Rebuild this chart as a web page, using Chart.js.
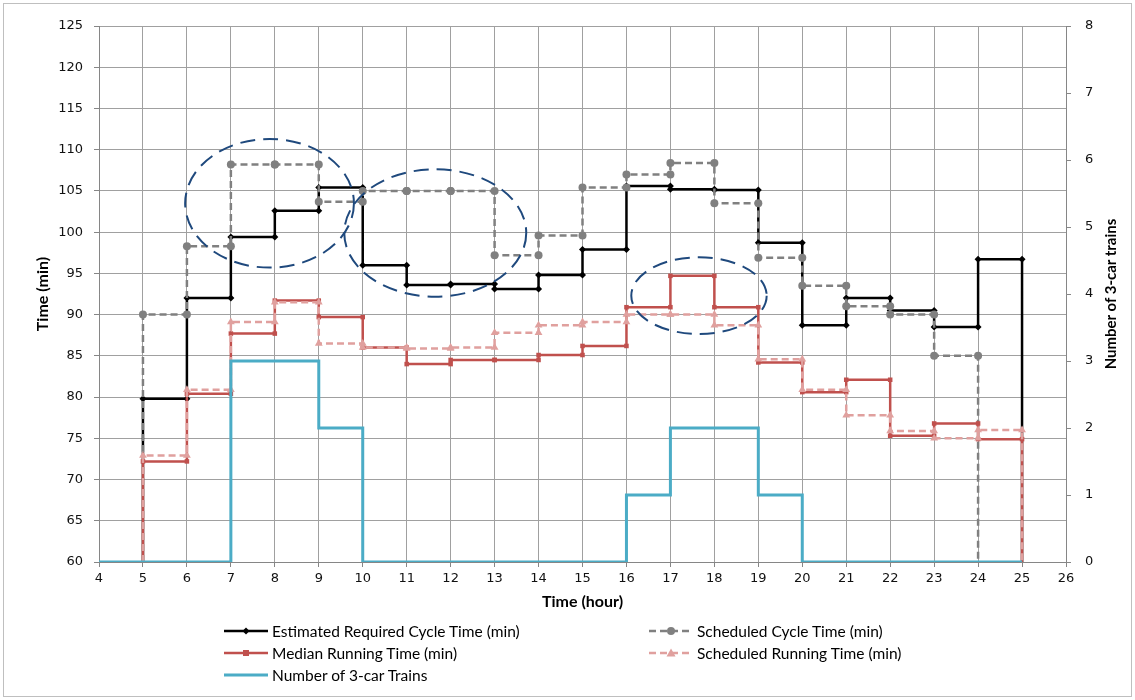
<!DOCTYPE html>
<html><head><meta charset="utf-8">
<script src="https://cdn.jsdelivr.net/npm/chart.js@4"></script>
<style>
html,body{margin:0;padding:0;background:#fff;}
#wrap{position:relative;width:1135px;height:700px;overflow:hidden;background:#fff;}
#c{position:absolute;left:0;top:0;}
#frame{position:absolute;left:3px;top:3px;width:1127px;height:692px;border:1px solid #BFBFBF;pointer-events:none;}
#rtitle{position:absolute;left:1110px;top:294px;transform:translate(-50%,-50%) rotate(-90deg);font:bold 15px Lato;white-space:nowrap;color:#000;}
.lg{position:absolute;height:16px;display:flex;align-items:center;font:15.5px Lato;color:#000;white-space:nowrap;}
.lg svg{margin-right:4px;}
</style></head>
<body>
<div id="wrap">
  <canvas id="c" width="1135" height="700"></canvas>
  <div id="frame"></div>
  <div id="rtitle">Number of 3-car trains</div>
</div>
<script>
// ---- data ----
const FLOOR = 60;
const hoursStart = 5;          // first hour of the time series
const trainsStart = 4;         // first hour of the 3-car train series
const xMin = 4, xMax = 26;
const yLeftMin = 60, yLeftMax = 125, yLeftStep = 5;
const yRightMin = 0, yRightMax = 8, yRightStep = 1;

const seriesLabels = [
  'Estimated Required Cycle Time (min)',
  'Scheduled Cycle Time (min)',
  'Median Running Time (min)',
  'Scheduled Running Time (min)',
  'Number of 3-car Trains'
];
// hours 5..24
const requiredCycle = [79.8, 92.0, 99.4, 102.6, 105.4, 96.0, 93.6, 93.7, 93.1, 94.8, 97.9, 105.6, 105.2, 105.1, 98.7, 88.7, 92.0, 90.5, 88.5, 96.7];
// hours 5..23
const scheduledCycle = [90.0, 98.3, 108.2, 108.2, 103.7, 105.0, 105.0, 105.0, 97.2, 99.6, 105.4, 107.0, 108.4, 103.5, 96.9, 93.5, 91.0, 90.0, 85.0];
// hours 5..24
const medianRunning = [72.2, 80.4, 87.7, 91.7, 89.7, 86.0, 84.0, 84.5, 84.5, 85.1, 86.2, 90.9, 94.7, 90.9, 84.2, 80.6, 82.1, 75.3, 76.8, 74.9];
const scheduledRunning = [72.9, 80.9, 89.1, 91.5, 86.5, 86.0, 85.9, 86.0, 87.8, 88.7, 89.1, 90.0, 90.0, 88.7, 84.6, 80.9, 77.8, 75.9, 75.0, 76.0];
// hours 4..24
const threeCarTrains = [0, 0, 0, 3, 3, 2, 0, 0, 0, 0, 0, 0, 1, 2, 2, 1, 0, 0, 0, 0, 0];

// highlight ellipses (hour, minutes)
const ellipseX = [7.88, 11.65, 17.65];
const ellipseY = [103.5, 99.9, 92.3];
const ellipseRX = [1.92, 2.07, 1.54];
const ellipseRY = [7.8, 7.72, 4.65];

function stepPoints(start, vals, floor) {
  const pts = [];
  if (floor !== null) pts.push({x: start, y: floor});
  vals.forEach((v, i) => { pts.push({x: start + i, y: v}); pts.push({x: start + i + 1, y: v}); });
  if (floor !== null) pts.push({x: start + vals.length, y: floor});
  return pts;
}
const rad = r => (c => (c.raw && c.raw.y === FLOOR) ? 0 : r);

const styles = [
  {color: '#000000', dash: [], marker: 'rectRot', r: 3.5, w: 2.5},
  {color: '#808080', dash: [7, 4], marker: 'circle', r: 4, w: 2.5},
  {color: '#C0504D', dash: [], marker: 'rect', r: 3.2, w: 2.5},
  {color: '#E0A09E', dash: [7, 4], marker: 'triangle', r: 4.5, w: 2.5},
  {color: '#4BACC6', dash: [], marker: null, r: 0, w: 3}
];
const seriesData = [
  stepPoints(hoursStart, requiredCycle, FLOOR),
  stepPoints(hoursStart, scheduledCycle, FLOOR),
  stepPoints(hoursStart, medianRunning, FLOOR),
  stepPoints(hoursStart, scheduledRunning, FLOOR),
  stepPoints(trainsStart, threeCarTrains, null)
];

const datasets = seriesData.map((d, i) => ({
  label: seriesLabels[i],
  data: d,
  yAxisID: i === 4 ? 'y1' : 'y',
  borderColor: styles[i].color,
  backgroundColor: styles[i].color,
  pointBackgroundColor: styles[i].color,
  pointBorderColor: styles[i].color,
  pointBorderWidth: 0,
  borderWidth: styles[i].w,
  borderDash: styles[i].dash,
  pointStyle: styles[i].marker || 'circle',
  pointRadius: styles[i].marker ? rad(styles[i].r) : 0,
  tension: 0,
  fill: false,
  order: 5 - i
}));

const ellipsePlugin = {
  id: 'ellipses',
  afterDatasetsDraw(chart) {
    const {ctx, scales: {x, y}} = chart;
    ctx.save();
    ctx.strokeStyle = '#1F497D';
    ctx.lineWidth = 2;
    ctx.setLineDash([15, 8]);
    for (let i = 0; i < ellipseX.length; i++) {
      const cx = x.getPixelForValue(ellipseX[i]);
      const cy = y.getPixelForValue(ellipseY[i]);
      const rx = Math.abs(x.getPixelForValue(ellipseX[i] + ellipseRX[i]) - cx);
      const ry = Math.abs(y.getPixelForValue(ellipseY[i] + ellipseRY[i]) - cy);
      ctx.beginPath();
      ctx.ellipse(cx, cy, rx, ry, 0, 0, Math.PI * 2);
      ctx.stroke();
    }
    ctx.restore();
  }
};

const tickFont = {family: 'DejaVu Sans', size: 13};
const titleFont = {family: 'Lato', size: 16, weight: 'bold'};
const gridColor = '#A0A0A0', axisColor = '#868686';

new Chart(document.getElementById('c'), {
  type: 'line',
  data: {datasets},
  plugins: [ellipsePlugin],
  options: {
    responsive: false,
    animation: false,
    devicePixelRatio: 1,
    layout: {padding: {top: 26, left: 0, right: 0, bottom: 88}},
    plugins: {legend: {display: false}, tooltip: {enabled: false}},
    scales: {
      x: {
        type: 'linear', min: xMin, max: xMax,
        ticks: {stepSize: 1, font: tickFont, color: '#111', padding: 4, maxRotation: 0, autoSkip: false},
        grid: {color: gridColor, tickColor: axisColor, tickLength: 5},
        border: {color: axisColor},
        title: {display: true, text: 'Time (hour)', font: titleFont, color: '#000', padding: {top: 0, bottom: 1}},
        afterFit: s => { s.height = 50; }
      },
      y: {
        position: 'left', min: yLeftMin, max: yLeftMax,
        ticks: {stepSize: yLeftStep, font: tickFont, color: '#111', padding: 11},
        grid: {color: gridColor, tickColor: axisColor, tickLength: 5},
        border: {color: axisColor},
        title: {display: true, text: 'Time (min)', font: titleFont, color: '#000', padding: {top: 33, bottom: 0}},
        afterFit: s => { s.width = 99; }
      },
      y1: {
        position: 'right', min: yRightMin, max: yRightMax,
        ticks: {stepSize: yRightStep, font: tickFont, color: '#111', padding: 14},
        grid: {drawOnChartArea: false, tickColor: axisColor, tickLength: 5},
        border: {color: axisColor},
        afterFit: s => { s.width = 69; }
      }
    }
  }
});

// ---- legend (HTML) ----
const legendPos = [
  {left: 224, y: 631}, {left: 649, y: 631},
  {left: 224, y: 653}, {left: 649, y: 653},
  {left: 224, y: 675}
];
function markerSvg(st) {
  const c = st.color;
  let m = '';
  if (st.marker === 'rectRot') m = `<polygon points="22,2.5 25.5,6 22,9.5 18.5,6" fill="${c}"/>`;
  else if (st.marker === 'circle') m = `<circle cx="22" cy="6" r="4" fill="${c}"/>`;
  else if (st.marker === 'rect') m = `<rect x="19" y="3" width="6" height="6" fill="${c}"/>`;
  else if (st.marker === 'triangle') m = `<polygon points="22,1.5 26.5,9.5 17.5,9.5" fill="${c}"/>`;
  const dash = st.dash.length ? `stroke-dasharray="${st.dash.join(',')}"` : '';
  return `<svg width="44" height="12"><line x1="0" y1="6" x2="44" y2="6" stroke="${c}" stroke-width="${st.w}" ${dash}/>${m}</svg>`;
}
const wrap = document.getElementById('wrap');
seriesLabels.forEach((lab, i) => {
  const d = document.createElement('div');
  d.className = 'lg';
  d.style.left = legendPos[i].left + 'px';
  d.style.top = (legendPos[i].y - 8) + 'px';
  d.innerHTML = markerSvg(styles[i]) + '<span></span>';
  d.querySelector('span').textContent = lab;
  wrap.appendChild(d);
});
</script>
</body></html>
